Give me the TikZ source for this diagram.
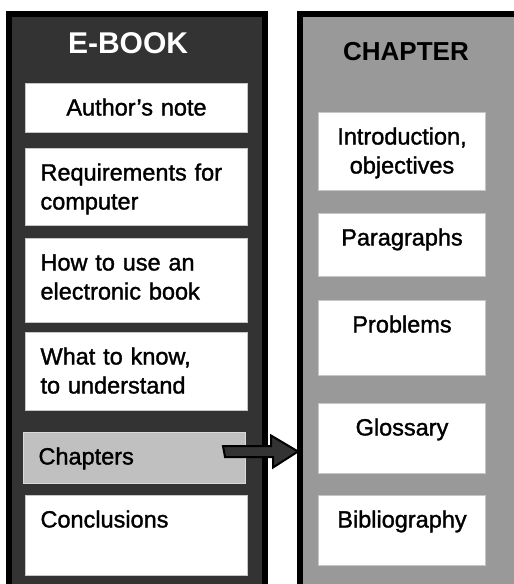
\documentclass[tikz,border=0pt]{standalone}
\usepackage{fontspec}
\setmainfont{Liberation Sans}
\newfontfamily\itemfont[FakeBold=1.4]{Liberation Sans}
\usepackage{tikz}

\definecolor{bookDark}{RGB}{51,51,51}
\definecolor{chapGray}{RGB}{153,153,153}
\definecolor{itemGray}{RGB}{192,192,192}

\tikzset{
  panel/.style={draw=black, line width=6pt, anchor=north west, inner sep=0pt, minimum height=600pt},
  heading/.style={anchor=base, inner sep=0pt, font=\fontsize{#1}{#1}\selectfont\bfseries},
  leftitem/.style={draw=gray!45, line width=1pt, fill=white, anchor=north west, inner xsep=15pt, inner ysep=0pt,
    text width=192pt, align=left, text height=32pt, text depth=#1, font=\itemfont\fontsize{23.5}{29}\selectfont},
  rightitem/.style={draw=gray!45, line width=1pt, fill=white, anchor=north west, inner xsep=0pt, inner ysep=0pt,
    text width=167pt, align=center, text height=32pt, text depth=#1, font=\itemfont\fontsize{23.5}{29}\selectfont},
  pointer/.style={draw=black, line width=2pt, fill=bookDark, line join=miter}
}

\begin{document}
\begin{tikzpicture}[x=1pt,y=1pt,yscale=-1,xscale=1]
\useasboundingbox (0,0) rectangle (514,584);

\begin{scope}
\clip (0,0) rectangle (514,584);
%Panels
\draw (6,11) node [panel, fill=bookDark, minimum width=256pt] (ebook) {};
\draw (297,11) node [panel, fill=chapGray, minimum width=240pt] (chapter) {};
\end{scope}

% Titles
\draw (128,53) node [heading=30, text=white] (ebooktitle) {E-BOOK};
\draw (406,60) node [heading=26, text=black] (chaptertitle) {CHAPTER};

% E-book items
\draw (25,83) node [leftitem=17pt, align=center, inner xsep=0pt, text width=222pt] (note) {Author’s note};
\draw (25,148) node [leftitem=45pt] (req) {Requirements for\\computer};
\draw (25,238) node [leftitem=52pt] (howto) {How to use an\\electronic book};
\draw (25,332) node [leftitem=46pt] (know) {What to know,\\to understand};
\draw (23,432) node [leftitem=19pt, fill=itemGray, draw=gray!30] (chap) {Chapters};
\draw (25,495) node [leftitem=48pt] (concl) {Conclusions};

% Chapter items
\draw (318,112) node [rightitem=46pt] (intro) {Introduction,\\objectives};
\draw (318,213) node [rightitem=31pt] (para) {Paragraphs};
\draw (318,300) node [rightitem=43pt] (prob) {Problems};
\draw (318,403) node [rightitem=38pt] (gloss) {Glossary};
\draw (318,495) node [rightitem=38pt] (biblio) {Bibliography};

% Arrow
\coordinate (tail) at ([xshift=-23pt,yshift=-6.5pt]chap.east);
\coordinate (tip) at ([xshift=1pt]chapter.west |- tail);
\draw [pointer] ([yshift=-5.5pt]tail) -- ++(48,0) -- ++(0,-10.5) -- (tip) -- ++(-25,16) -- ++(0,-10.5) -- ++(-48,0) -- cycle;

\end{tikzpicture}
\end{document}
